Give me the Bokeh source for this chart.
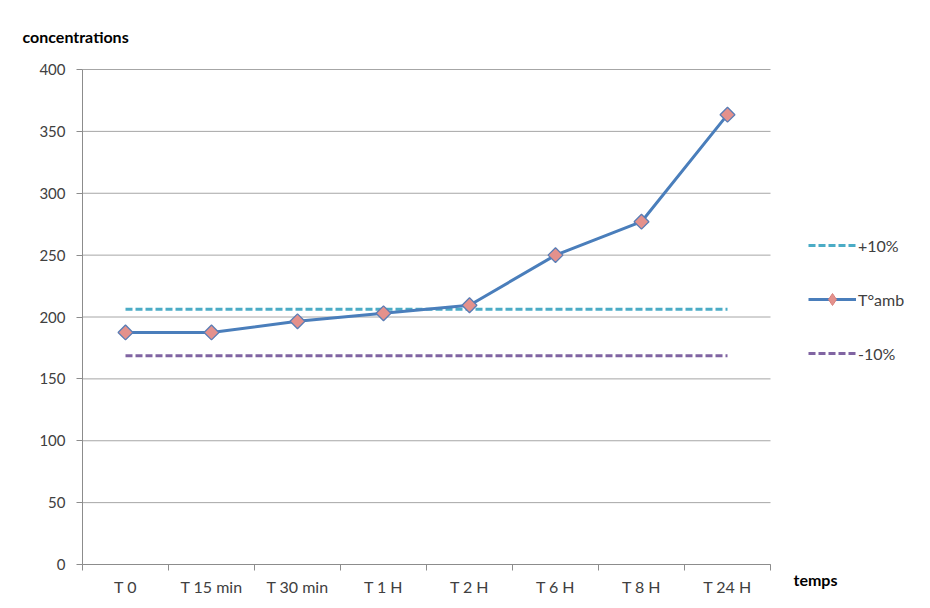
import math
from bokeh.plotting import figure
from bokeh.models import Range1d, FixedTicker, Label, Legend, LegendItem
from bokeh.embed import file_html
from bokeh.resources import INLINE

categories = ["T 0", "T 15 min", "T 30 min", "T 1 H", "T 2 H", "T 6 H", "T 8 H", "T 24 H"]
t_amb = [187.5, 187.5, 196.5, 203.0, 209.5, 250.0, 277.0, 363.5]
plus10 = [206.25, 206.25, 206.25, 206.25, 206.25, 206.25, 206.25, 206.25]
minus10 = [168.75, 168.75, 168.75, 168.75, 168.75, 168.75, 168.75, 168.75]
y_ticks = [0, 50, 100, 150, 200, 250, 300, 350, 400]

FONT = "Lato"
W, H = 930, 608
n = len(categories)
xs = [i + 0.5 for i in range(n)]

# frame covers the whole canvas; axes are pinned with fixed_location
PX_LEFT, PX_RIGHT = 82, 770      # plot area in pixels
PX_TOP, PX_BOTTOM = 69, 564
ux = (PX_RIGHT - PX_LEFT) / n
uy = (PX_BOTTOM - PX_TOP) / y_ticks[-1]
x_range = Range1d(-PX_LEFT / ux, (W - PX_LEFT) / ux)
y_range = Range1d(-(H - PX_BOTTOM) / uy, PX_BOTTOM / uy)

p = figure(output_backend="svg", toolbar_location=None, width=W, height=H,
           min_border=0, x_range=x_range, y_range=y_range)
p.outline_line_color = None
p.background_fill_color = "white"
p.border_fill_color = "white"
p.xgrid.grid_line_color = None
p.ygrid.grid_line_color = None

# grid lines limited to the plot area
p.segment(x0=[0] * len(y_ticks), x1=[n] * len(y_ticks), y0=y_ticks, y1=y_ticks,
          line_color="#a6a6a6", line_width=1)

# axes
p.yaxis.ticker = FixedTicker(ticks=y_ticks)
p.xaxis.ticker = FixedTicker(ticks=xs, minor_ticks=list(range(n + 1)))
p.xaxis.major_label_overrides = {x: c for x, c in zip(xs, categories)}
p.xaxis.fixed_location = 0
p.yaxis.fixed_location = 0
p.xaxis.bounds = (0, n)
p.yaxis.bounds = (0, y_ticks[-1])
for ax in (p.xaxis[0], p.yaxis[0]):
    ax.axis_line_color = "#8c8c8c"
    ax.axis_line_width = 1
    ax.major_label_text_font = FONT
    ax.major_label_text_color = "#404040"
p.xaxis.major_label_text_font_size = "16px"
p.yaxis.major_label_text_font_size = "15px"
p.yaxis.major_tick_line_color = "#8c8c8c"
p.yaxis.major_tick_out = 6
p.yaxis.major_tick_in = 0
p.yaxis.minor_tick_line_color = None
p.yaxis.major_label_standoff = 11
p.xaxis.major_tick_line_color = None
p.xaxis.minor_tick_line_color = "#8c8c8c"
p.xaxis.minor_tick_out = 6
p.xaxis.minor_tick_in = 0
p.xaxis.major_label_standoff = 6

# series
r_plus = p.line(xs, plus10, line_color="#4BACC6", line_width=3, line_dash="7 3")
r_minus = p.line(xs, minus10, line_color="#8064A2", line_width=3, line_dash="7 3")
r_line = p.line(xs, t_amb, line_color="#4A7EBB", line_width=3)
# legend swatch marker (legend swatches ignore rotation); hidden beneath the first marker
r_leg_mark = p.scatter(xs[:1], t_amb[:1], marker="diamond", size=10,
                       fill_color="#E4918C", line_color="#D9827D", line_width=1)
r_mark = p.scatter(xs, t_amb, marker="square", angle=math.pi / 4, size=10.5,
                   fill_color="#E4918C", line_color="#5A7DB5", line_width=1.3)

legend = Legend(items=[
    LegendItem(label="+10%", renderers=[r_plus]),
    LegendItem(label="T°amb", renderers=[r_line, r_leg_mark]),
    LegendItem(label="-10%", renderers=[r_minus]),
], location=(808, 240))
legend.glyph_width = 48
legend.glyph_height = 30
legend.label_height = 30
legend.spacing = 24
legend.padding = 0
legend.margin = 0
legend.label_standoff = 2
legend.label_text_font = FONT
legend.label_text_font_size = "16px"
legend.label_text_color = "#404040"
legend.border_line_color = None
legend.background_fill_alpha = 0
p.add_layout(legend, "center")

p.add_layout(Label(x=22, y=H - 36, x_units="screen", y_units="screen", text="concentrations",
                   text_font=FONT, text_font_size="16px", text_font_style="bold",
                   text_color="#000000", text_baseline="middle"))
p.add_layout(Label(x=793, y=H - 579, x_units="screen", y_units="screen", text="temps",
                   text_font=FONT, text_font_size="16px", text_font_style="bold",
                   text_color="#000000", text_baseline="middle"))

open("out.html", "w").write(file_html(p, INLINE))
